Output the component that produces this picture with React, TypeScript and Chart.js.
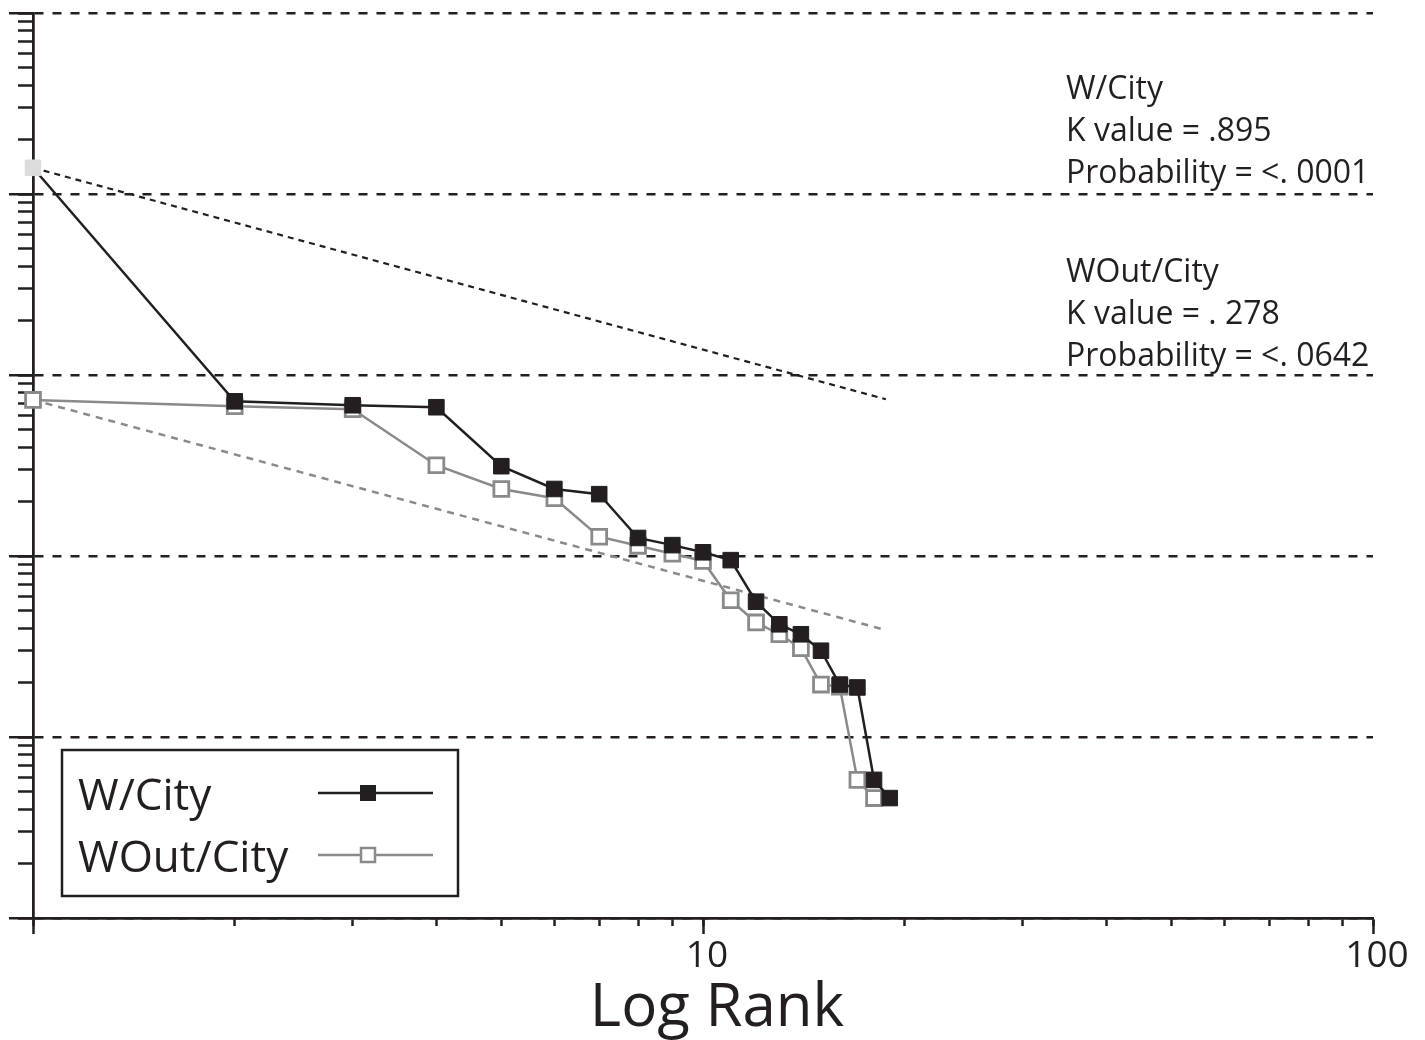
import React, { useEffect, useRef } from 'react';
import { Chart, registerables } from 'chart.js';

Chart.register(...registerables);

// ---------- data ----------
const RANKS_W = [1, 2, 3, 4, 5, 6, 7, 8, 9, 10, 11, 12, 13, 14, 15, 16, 17, 18, 19];
const W_CITY = [14000, 717, 682, 665, 314, 235, 220, 126, 115, 105, 95, 56, 42, 37, 30, 19.5, 18.8, 5.8, 4.6];

const RANKS_WOUT = [1, 2, 3, 4, 5, 6, 7, 8, 9, 10, 11, 12, 13, 14, 15, 16, 17, 18];
const WOUT_CITY = [730, 673, 648, 318, 235, 209, 128, 114, 103, 94, 57, 43, 37, 31, 19.5, 19, 5.8, 4.6];

const FIT_RANKS = [1, 18.75];
const W_FIT = [14000, 736];
const WOUT_FIT = [730, 39];

const SERIES_LABELS = ['W/City', 'WOut/City'];
const STATS_W = ['W/City', 'K value = .895', 'Probability = <. 0001'];
const STATS_WOUT = ['WOut/City', 'K value = . 278', 'Probability = <. 0642'];

const X_TITLE = 'Log Rank';
const X_MAJOR_TICKS = [1, 10, 100];
const X_TICK_LABELS = ['', '10', '100'];
const X_MINOR_TICKS = [1, 2, 3, 4, 5, 6, 7, 8, 9, 10, 20, 30, 40, 50, 60, 70, 80, 90, 100];
const Y_MAJOR_TICKS = [1, 10, 100, 1000, 10000, 100000];
const Y_MINOR_TICKS = [
  1, 2, 3, 4, 5, 6, 7, 8, 9,
  10, 20, 30, 40, 50, 60, 70, 80, 90,
  100, 200, 300, 400, 500, 600, 700, 800, 900,
  1000, 2000, 3000, 4000, 5000, 6000, 7000, 8000, 9000,
  10000, 20000, 30000, 40000, 50000, 60000, 70000, 80000, 90000,
  100000,
];

// ---------- styles ----------
const INK = '#231f20';
const GRAY = '#8a8a8a';
const FIRST_POINT = '#dcdcdc';
const FONT = "'Open Sans', sans-serif";

const toPoints = (xs: number[], ys: number[]) => ys.map((y, i) => ({ x: xs[i], y }));
const setTicks = (list: number[]) => (scale: any) => {
  scale.ticks = list.map((v) => ({ value: v }));
};

const overlayPlugin = {
  id: 'overlay',
  afterDraw(chart: any) {
    const ctx = chart.ctx as CanvasRenderingContext2D;
    ctx.save();
    ctx.textAlign = 'left';
    ctx.textBaseline = 'alphabetic';
    ctx.fillStyle = INK;
    ctx.font = `32px ${FONT}`;
    STATS_W.forEach((t, i) => ctx.fillText(t, 1066, 99 + i * 42));
    STATS_WOUT.forEach((t, i) => ctx.fillText(t, 1066, 282 + i * 42));

    // legend box
    ctx.fillStyle = '#ffffff';
    ctx.fillRect(62, 750, 396, 146);
    ctx.lineWidth = 2.5;
    ctx.strokeStyle = INK;
    ctx.strokeRect(62, 750, 396, 146);

    const rows = [
      { ds: 0, base: 810, ly: 793 },
      { ds: 1, base: 872, ly: 855 },
    ];
    ctx.font = `44px ${FONT}`;
    rows.forEach((r) => {
      const ds = chart.data.datasets[r.ds];
      ctx.fillStyle = INK;
      ctx.fillText(ds.label, 78, r.base);
      const col = r.ds === 0 ? INK : GRAY;
      ctx.strokeStyle = col;
      ctx.lineWidth = 2.5;
      ctx.beginPath();
      ctx.moveTo(318, r.ly);
      ctx.lineTo(433, r.ly);
      ctx.stroke();
      if (r.ds === 0) {
        ctx.fillStyle = INK;
        ctx.fillRect(368 - 8, r.ly - 8, 16, 16);
      } else {
        ctx.fillStyle = '#ffffff';
        ctx.fillRect(368 - 7, r.ly - 7, 14, 14);
        ctx.lineWidth = 2.5;
        ctx.strokeStyle = GRAY;
        ctx.strokeRect(368 - 7, r.ly - 7, 14, 14);
      }
    });
    ctx.restore();
  },
};

export default function App() {
  const ref = useRef<HTMLCanvasElement | null>(null);

  useEffect(() => {
    if (!ref.current) return;
    const chart = new Chart(ref.current, {
      type: 'line',
      data: {
        datasets: [
          {
            label: SERIES_LABELS[0],
            data: toPoints(RANKS_W, W_CITY),
            borderColor: INK,
            borderWidth: 2.5,
            pointStyle: 'rect',
            pointRadius: 11,
            pointBorderWidth: 1,
            pointBackgroundColor: (c: any) => (c.dataIndex === 0 ? FIRST_POINT : INK),
            pointBorderColor: (c: any) => (c.dataIndex === 0 ? FIRST_POINT : INK),
            tension: 0,
            fill: false,
            clip: false,
            order: 0,
            xAxisID: 'x',
            yAxisID: 'y',
          },
          {
            label: SERIES_LABELS[1],
            data: toPoints(RANKS_WOUT, WOUT_CITY),
            borderColor: GRAY,
            borderWidth: 2.5,
            pointStyle: 'rect',
            pointRadius: 10.5,
            pointBorderWidth: 2.8,
            pointBackgroundColor: '#ffffff',
            pointBorderColor: GRAY,
            tension: 0,
            fill: false,
            clip: false,
            order: 1,
            xAxisID: 'x',
            yAxisID: 'y',
          },
          {
            label: 'W/City fit',
            data: toPoints(FIT_RANKS, W_FIT),
            borderColor: INK,
            borderWidth: 2.2,
            borderDash: [6, 5],
            pointRadius: 0,
            fill: false,
            clip: false,
            order: 2,
            xAxisID: 'x',
            yAxisID: 'y',
          },
          {
            label: 'WOut/City fit',
            data: toPoints(FIT_RANKS, WOUT_FIT),
            borderColor: GRAY,
            borderWidth: 2.5,
            borderDash: [7, 6],
            pointRadius: 0,
            fill: false,
            clip: false,
            order: 3,
            xAxisID: 'x',
            yAxisID: 'y',
          },
        ] as any,
      },
      options: {
        responsive: false,
        animation: false,
        devicePixelRatio: 1,
        layout: { padding: { top: 11, right: 0, bottom: 0, left: 9 } },
        plugins: {
          legend: { display: false },
          tooltip: { enabled: false },
          title: {
            display: true,
            text: X_TITLE,
            position: 'bottom',
            align: 'center',
            color: INK,
            font: { family: FONT, size: 60, weight: 'normal' as any, lineHeight: 1.0 },
            padding: { top: 6, bottom: 1 },
          },
        },
        scales: {
          x: {
            type: 'logarithmic',
            position: 'bottom',
            weight: 1,
            min: 1,
            max: 100,
            afterBuildTicks: setTicks(X_MAJOR_TICKS),
            afterFit: (s: any) => {
              s.height = 55;
            },
            grid: { drawOnChartArea: false, tickLength: 16, tickWidth: 2.5, tickColor: INK, color: INK },
            border: { display: true, color: INK, width: 2.5 },
            ticks: {
              autoSkip: false,
              maxRotation: 0,
              padding: 0,
              labelOffset: 4,
              color: INK,
              font: { family: FONT, size: 37 },
              callback: (_v: any, i: number) => X_TICK_LABELS[i] ?? '',
            },
          },
          xMinor: {
            type: 'logarithmic',
            position: 'bottom',
            weight: 0,
            min: 1,
            max: 100,
            afterBuildTicks: setTicks(X_MINOR_TICKS),
            afterFit: (s: any) => {
              s.height = 0;
            },
            grid: { drawOnChartArea: false, tickLength: 8, tickWidth: 2.5, tickColor: INK, color: INK },
            border: { display: true, color: INK, width: 2.5 },
            ticks: { display: false },
          },
          y: {
            type: 'logarithmic',
            position: 'left',
            weight: 1,
            min: 1,
            max: 100000,
            afterBuildTicks: setTicks(Y_MAJOR_TICKS),
            afterFit: (s: any) => {
              s.width = 24;
            },
            grid: {
              drawOnChartArea: true,
              color: INK,
              lineWidth: 2.5,
              tickLength: 24,
              tickWidth: 2.5,
              tickColor: INK,
              tickBorderDash: [],
            },
            border: { display: true, color: INK, width: 2.5, dash: [9, 9] },
            ticks: { display: false },
          },
          yMinor: {
            type: 'logarithmic',
            position: 'left',
            weight: 0,
            min: 1,
            max: 100000,
            afterBuildTicks: setTicks(Y_MINOR_TICKS),
            afterFit: (s: any) => {
              s.width = 0;
            },
            grid: { drawOnChartArea: false, tickLength: 15, tickWidth: 2.5, tickColor: INK, color: INK },
            border: { display: true, color: INK, width: 2.5 },
            ticks: { display: false },
          },
          ySpacer: {
            type: 'linear',
            position: 'right',
            afterFit: (s: any) => {
              s.width = 52;
            },
            grid: { display: false, drawTicks: false },
            border: { display: false },
            ticks: { display: false },
          },
        } as any,
      },
      plugins: [overlayPlugin],
    });
    return () => chart.destroy();
  }, []);

  return (
    <div style={{ position: 'absolute', left: 0, top: 0, width: 1425, height: 1040, background: '#fff' }}>
      <canvas ref={ref} width={1425} height={1040} style={{ display: 'block' }} />
    </div>
  );
}
